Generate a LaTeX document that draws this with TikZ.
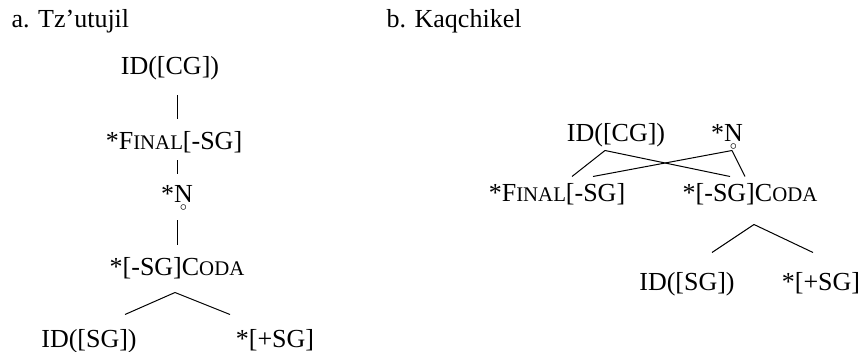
\documentclass[tikz,border=0pt]{standalone}
\usepackage{fontspec}
\setmainfont{Liberation Serif}
\usetikzlibrary{positioning}
\newcommand{\smallcap}[2]{#1{\fontsize{10.4}{12}\selectfont #2}}
\newcommand{\ringN}{\setbox0\hbox{N}N\llap{\hbox to \wd0{\hss\raisebox{-4pt}{\fontsize{6}{6}\selectfont$\circ$}\hss}}}

\begin{document}
\begin{tikzpicture}[x=0.5pt, y=-0.5pt, line width=0.5pt,
    font=\fontsize{13}{15}\selectfont,
    con/.style={inner sep=0pt, text height=9pt, text depth=2.5pt, anchor=base},
    tag/.style={inner sep=0pt, anchor=base west},
    link/.style={shorten <=6pt, shorten >=6pt}]
  \useasboundingbox (0,0) rectangle (861,352);

  \node[tag] (taga) at (11,28) {a. Tz’utujil};
  \node[tag] (tagb) at (386,28) {b. Kaqchikel};

  % Tz'utujil
  \node[con] (idcga) at (170,75) {ID([CG])};
  \node[con] (fina) at (174,150) {*\smallcap{F}{INAL}[-SG]};
  \node[con] (na) at (177,203) {*\ringN};
  \node[con] (codaa) at (177,275) {*[-SG]\smallcap{C}{ODA}};
  \node[con] (sga) at (89,347) {ID([SG])};
  \node[con] (plusa) at (275,347) {*[+SG]};
  \coordinate (forka) at ([xshift=-1pt,yshift=-6pt]codaa.south);

  \path
    (idcga.south -| na) edge[link, shorten <=7.5pt] (fina.north -| na)
    (fina.south -| na) edge[link, shorten <=2.5pt, shorten >=5pt] (na.north)
    (na.south) edge[link] (codaa.north -| na)
    (forka) edge ([xshift=18pt,yshift=7pt]sga.north)
    (forka) edge ([xshift=-22.5pt,yshift=7pt]plusa.north);

  % Kaqchikel
  \node[con] (idcgb) at (616,142) {ID([CG])};
  \node[con] (nb) at (727,142) {*\ringN};
  \node[con] (finb) at (557,202) {*\smallcap{F}{INAL}[-SG]};
  \node[con] (codab) at (750,202) {*[-SG]\smallcap{C}{ODA}};
  \node[con] (sgb) at (687,290) {ID([SG])};
  \node[con] (plusb) at (821,290) {*[+SG]};
  \coordinate (forkb) at ([xshift=2pt,yshift=-8.5pt]codab.south);

  \path
    ([xshift=-5.5pt,yshift=-1.5pt]idcgb.south) edge ([xshift=7.5pt,yshift=3.5pt]finb.north)
    ([xshift=-5.5pt,yshift=-1.5pt]idcgb.south) edge ([xshift=-10pt,yshift=3.5pt]codab.north)
    ([xshift=2.5pt,yshift=-1.5pt]nb.south) edge ([xshift=18pt,yshift=3.5pt]finb.north)
    ([xshift=2.5pt,yshift=-1.5pt]nb.south) edge ([xshift=-2.5pt,yshift=3.5pt]codab.north)
    (forkb) edge ([xshift=12.5pt,yshift=9.5pt]sgb.north)
    (forkb) edge ([xshift=-4pt,yshift=9.5pt]plusb.north);
\end{tikzpicture}
\end{document}
